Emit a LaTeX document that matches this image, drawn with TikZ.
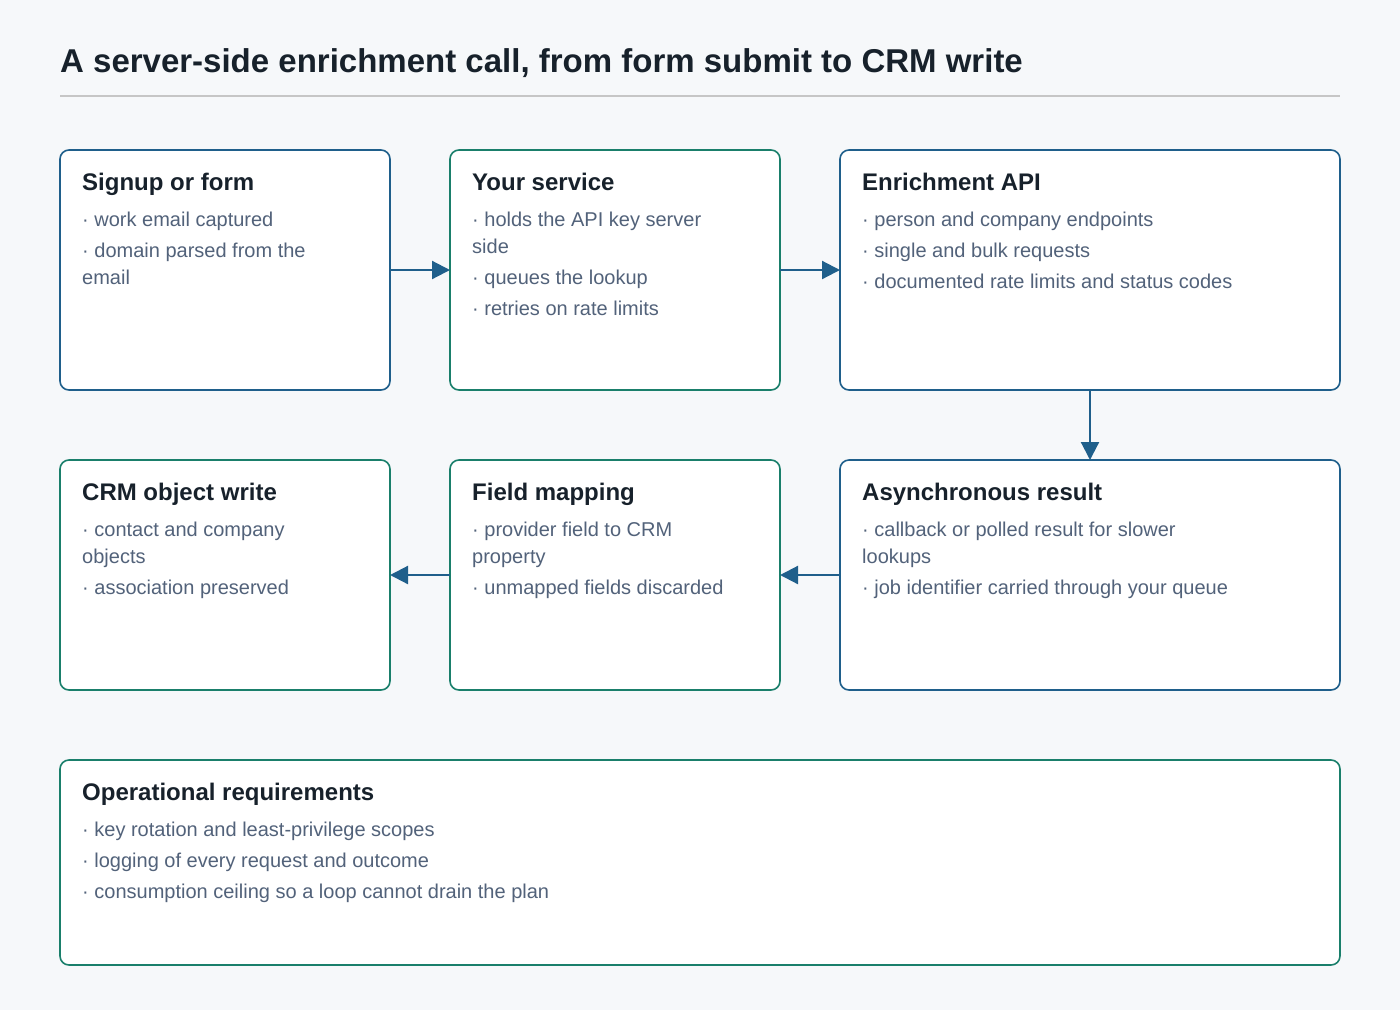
\documentclass[tikz,border=0pt]{standalone}
\usepackage{fontspec}
\setmainfont{Liberation Sans}
\usetikzlibrary{arrows.meta}
\definecolor{bg}{HTML}{F6F8FA}
\definecolor{bl}{HTML}{1F5F8B}
\definecolor{gr}{HTML}{1A7F6B}
\definecolor{tt}{HTML}{17212B}
\definecolor{tx}{HTML}{52627A}
\begin{document}
\begin{tikzpicture}[x=1pt,y=-1pt,
 box/.style={draw=#1,line width=1.6pt,rounded corners=9pt,fill=white},
 hd/.style={anchor=base west,inner sep=0,text=tt,font=\fontsize{24}{28}\selectfont\bfseries},
 it/.style={anchor=base west,inner sep=0,text=tx,font=\fontsize{20}{24}\selectfont},
 ar/.style={draw=bl,line width=2.2pt,-{Triangle[length=18pt,width=18pt]}}]
\useasboundingbox[fill=bg] (0,0) rectangle (1400,1010);
\node[anchor=base west,inner sep=0,text=tt,font=\fontsize{33}{38}\selectfont\bfseries] (title) at (60,72) {A server-side enrichment call, from form submit to CRM write};
\draw[draw=gray!45,line width=1.2pt] (60,96) -- (1340,96);
% boxes
\draw[box=bl] (60,150) rectangle (390,390) node[pos=0,anchor=north west,inner sep=0] (b1) {};
\draw[box=gr] (450,150) rectangle (780,390) node[pos=0,anchor=north west,inner sep=0] (b2) {};
\draw[box=bl] (840,150) rectangle (1340,390) node[pos=0,anchor=north west,inner sep=0] (b3) {};
\draw[box=gr] (60,460) rectangle (390,690) node[pos=0,anchor=north west,inner sep=0] (b4) {};
\draw[box=gr] (450,460) rectangle (780,690) node[pos=0,anchor=north west,inner sep=0] (b5) {};
\draw[box=bl] (840,460) rectangle (1340,690) node[pos=0,anchor=north west,inner sep=0] (b6) {};
\draw[box=gr] (60,760) rectangle (1340,965) node[pos=0,anchor=north west,inner sep=0] (b7) {};
\coordinate (r1) at (390,270); \coordinate (l2) at (450,270);
\coordinate (r2) at (780,270); \coordinate (l3) at (840,270);
\coordinate (d3) at (1090,390); \coordinate (u6) at (1090,460);
\coordinate (l6) at (840,575); \coordinate (r5) at (780,575);
\coordinate (l5) at (450,575); \coordinate (r4) at (390,575);
\draw[ar] (r1) -- (l2);
\draw[ar] (r2) -- (l3);
\draw[ar] (d3) -- (u6);
\draw[ar] (l6) -- (r5);
\draw[ar] (l5) -- (r4);
% text box 1
\node[hd] (t1) at (82,190) {Signup or form};
\node[it] (t1a) at (82,226) {· work email captured};
\node[it] (t1b) at (82,257) {· domain parsed from the};
\node[it] (t1c) at (82,284) {email};
% box 2
\node[hd] (t2) at (472,190) {Your service};
\node[it] (t2a) at (472,226) {· holds the API key server};
\node[it] (t2b) at (472,253) {side};
\node[it] (t2c) at (472,284) {· queues the lookup};
\node[it] (t2d) at (472,315) {· retries on rate limits};
% box 3
\node[hd] (t3) at (862,190) {Enrichment API};
\node[it] (t3a) at (862,226) {· person and company endpoints};
\node[it] (t3b) at (862,257) {· single and bulk requests};
\node[it] (t3c) at (862,288) {· documented rate limits and status codes};
% box 4
\node[hd] (t4) at (82,500) {CRM object write};
\node[it] (t4a) at (82,536) {· contact and company};
\node[it] (t4b) at (82,563) {objects};
\node[it] (t4c) at (82,594) {· association preserved};
% box 5
\node[hd] (t5) at (472,500) {Field mapping};
\node[it] (t5a) at (472,536) {· provider field to CRM};
\node[it] (t5b) at (472,563) {property};
\node[it] (t5c) at (472,594) {· unmapped fields discarded};
% box 6
\node[hd] (t6) at (862,500) {Asynchronous result};
\node[it] (t6a) at (862,536) {· callback or polled result for slower};
\node[it] (t6b) at (862,563) {lookups};
\node[it] (t6c) at (862,594) {· job identifier carried through your queue};
% box 7
\node[hd] (t7) at (82,800) {Operational requirements};
\node[it] (t7a) at (82,836) {· key rotation and least-privilege scopes};
\node[it] (t7b) at (82,867) {· logging of every request and outcome};
\node[it] (t7c) at (82,898) {· consumption ceiling so a loop cannot drain the plan};
\end{tikzpicture}
\end{document}
